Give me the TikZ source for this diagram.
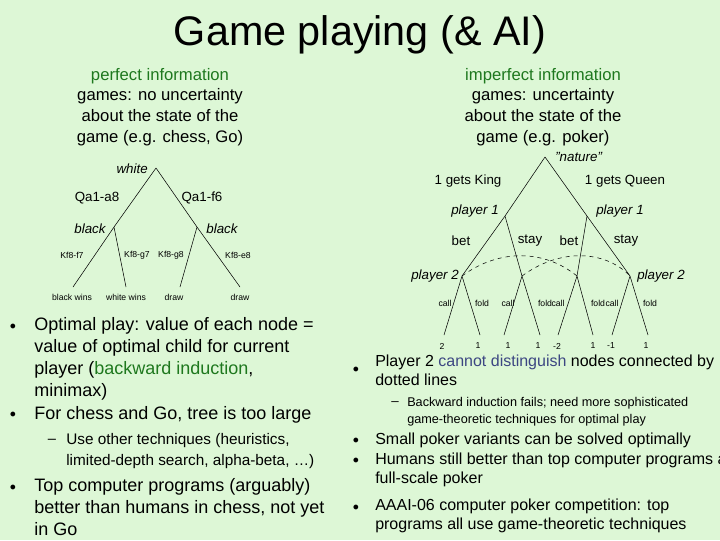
\documentclass[tikz,border=0pt]{standalone}
\usepackage{fontspec}
\setmainfont{Liberation Sans}
\begin{document}
\begin{tikzpicture}[x=0.75pt,y=-0.75pt,
  lbl/.style={inner sep=0pt,font=\fontsize{10}{12}\selectfont},
  sm/.style={inner sep=0pt,font=\fontsize{6.5}{8}\selectfont},
  it/.style={inner sep=0pt,font=\fontsize{10}{12}\selectfont\itshape},
  pt/.style={inner sep=0pt,minimum size=0pt},
  body/.style={anchor=north west,inner sep=0pt,align=left,font=\fontsize{13.5}{16.5}\selectfont},
  rbody/.style={anchor=north west,inner sep=0pt,align=left,font=\fontsize{12}{14}\selectfont},
  bul/.style={inner sep=0pt,font=\fontsize{9}{10}\selectfont}]
\definecolor{bg}{RGB}{221,247,214}
\definecolor{gr}{RGB}{30,120,30}
\definecolor{hl}{RGB}{60,70,130}
\fill[bg] (0,0) rectangle (720,540);
\useasboundingbox (0,0) rectangle (720,540);
\node (title) at (360,35) {\fontsize{31}{36}\selectfont Game playing (\& AI)};
\node[align=center,font=\fontsize{12.5}{16.5}\selectfont] (pi) at (160,107) {{\color{gr}perfect information}\\[-1pt]games: no uncertainty\\[-1pt]about the state of the\\[-1pt]game (e.g. chess, Go)};
\node[align=center,font=\fontsize{12.5}{16.5}\selectfont] (ii) at (543,107) {{\color{gr}imperfect information}\\[-1pt]games: uncertainty\\[-1pt]about the state of the\\[-1pt]game (e.g. poker)};
% chess tree
\node[pt] (w) at (156,168) {};
\node[pt] (bl) at (114,227) {};
\node[pt] (br) at (197,227) {};
\node[pt] (l1) at (73,287) {};
\node[pt] (l2) at (126,287) {};
\node[pt] (l3) at (180,287) {};
\node[pt] (l4) at (240,287) {};
\draw (w.center)--(bl.center) (w.center)--(br.center) (bl.center)--(l1.center) (bl.center)--(l2.center) (br.center)--(l3.center) (br.center)--(l4.center);
\node[it,anchor=east] (tw) at (148,169) {white};
\node[lbl] (t1) at (97,198) {Qa1-a8};
\node[lbl] (t2) at (202,198) {Qa1-f6};
\node[it] (t3) at (90,229) {black};
\node[it] (t4) at (222,229) {black};
\node[sm] (t5) at (72,255) {Kf8-f7};
\node[sm] (t6) at (137,255) {Kf8-g7};
\node[sm] (t7) at (171,255) {Kf8-g8};
\node[sm] (t8) at (238,255) {Kf8-e8};
\node[sm] (t9) at (72,297) {black wins};
\node[sm] (t10) at (126,297) {white wins};
\node[sm] (t11) at (174,297) {draw};
\node[sm] (t12) at (240,297) {draw};
% poker tree
\node[pt] (n) at (545,157) {};
\node[pt] (p1a) at (505,216) {};
\node[pt] (p1b) at (587,216) {};
\node[pt] (qa) at (462,276) {};
\node[pt] (qb) at (522,276) {};
\node[pt] (qc) at (577,276) {};
\node[pt] (qd) at (630,276) {};
\foreach \i/\x in {1/444,2/480,3/504,4/540,5/558,6/593,7/612,8/648}{\node[pt] (f\i) at (\x,335) {};}
\draw (n.center)--(p1a.center) (n.center)--(p1b.center)
 (p1a.center)--(qa.center) (p1a.center)--(qb.center) (p1b.center)--(qc.center) (p1b.center)--(qd.center)
 (qa.center)--(f1.center) (qa.center)--(f2.center) (qb.center)--(f3.center) (qb.center)--(f4.center)
 (qc.center)--(f5.center) (qc.center)--(f6.center) (qd.center)--(f7.center) (qd.center)--(f8.center);
\draw[dashed] (qa.center) .. controls (500,248) and (545,250) .. (qc.center);
\draw[dashed] (qb.center) .. controls (560,248) and (605,250) .. (qd.center);
\node[it,anchor=west] (nat) at (555,157) {"nature"};
\node[lbl] (k1) at (468,181) {1 gets King};
\node[lbl] (k2) at (625,181) {1 gets Queen};
\node[it] (pa) at (475,211) {player 1};
\node[it] (pb) at (620,211) {player 1};
\node[lbl] (b1) at (461,241) {bet};
\node[lbl] (s1) at (530,241) {stay};
\node[lbl] (b2) at (569,241) {bet};
\node[lbl] (s2) at (626,241) {stay};
\node[it,anchor=east] (pc) at (459,276) {player 2};
\node[it,anchor=west] (pd) at (637,276) {player 2};
\foreach \t/\x in {call/445,fold/482,call/508,fold/545,call/558,fold/598,call/612,fold/650}{\node[sm] at (\x,303) {\t};}
\foreach \t/\x in {2/442,1/478,1/508,1/538,-2/557,1/593,-1/611,1/646}{\node[sm] at (\x,346) {\t};}
% left bullets
\node[bul] (lb1) at (13,327) {$\bullet$};
\node[body] (lt1) at (34,317) {Optimal play: value of each node =\\value of optimal child for current\\player ({\color{gr}backward induction},\\minimax)};
\node[bul] (lb2) at (13,415) {$\bullet$};
\node[body] (lt2) at (34,406) {For chess and Go, tree is too large};
\node[font=\fontsize{11}{13}\selectfont] (ld) at (52,441) {--};
\node[rbody,font=\fontsize{11.5}{15.5}\selectfont] (lt3) at (66,433) {Use other techniques (heuristics,\\limited-depth search, alpha-beta, …)};
\node[bul] (lb3) at (13,488) {$\bullet$};
\node[body] (lt4) at (34,478) {Top computer programs (arguably)\\better than humans in chess, not yet\\in Go};
% right bullets
\node[bul] (rb1) at (356,370) {$\bullet$};
\node[rbody] (rt1) at (375,355) {Player 2 {\color{hl}cannot distinguish} nodes connected by\\dotted lines};
\node[font=\fontsize{10}{12}\selectfont] (rd) at (395,404) {--};
\node[rbody,font=\fontsize{9.5}{13}\selectfont] (rt2) at (407,397) {Backward induction fails; need more sophisticated\\game-theoretic techniques for optimal play};
\node[bul] (rb2) at (356,441) {$\bullet$};
\node[rbody] (rt3) at (375,433) {Small poker variants can be solved optimally};
\node[bul] (rb3) at (356,461) {$\bullet$};
\node[rbody] (rt4) at (375,453) {Humans still better than top computer programs a\\full-scale poker};
\node[bul] (rb4) at (356,508) {$\bullet$};
\node[rbody] (rt5) at (375,499) {AAAI-06 computer poker competition: top\\programs all use game-theoretic techniques};
\end{tikzpicture}
\end{document}
